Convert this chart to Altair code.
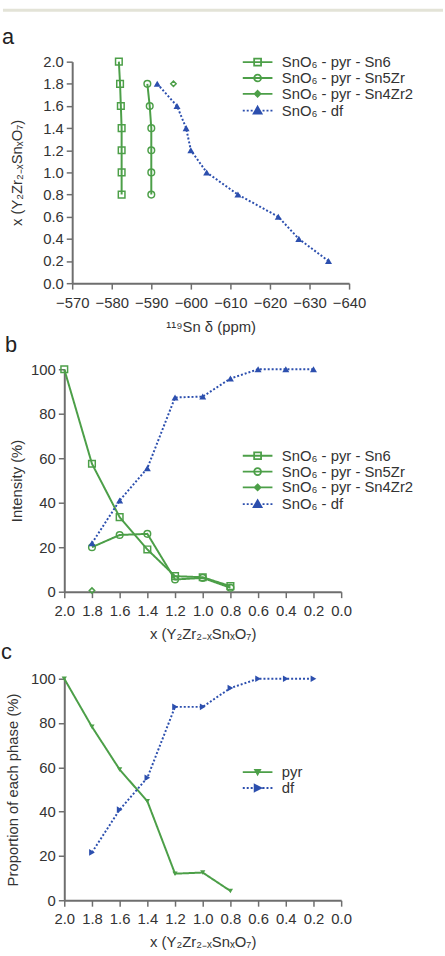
import altair as alt
import pandas as pd

GREEN = "#4c9f48"
BLUE = "#2c4fae"
AXIS_GREY = "#6e6e6e"
TEXT = "#333333"
FONT = "Liberation Sans"

SN6 = "SnO₆ - pyr - Sn6"
SN5 = "SnO₆ - pyr - Sn5Zr"
SN4 = "SnO₆ - pyr - Sn4Zr2"
DF = "SnO₆ - df"
PYR = "pyr"
DFC = "df"
COMP_TITLE = "x (Y₂Zr₂₋ₓSnₓO₇)"

# ---- a: 119Sn chemical shift of each SnO6 environment vs composition
a_comp_sn6 = [2.0, 1.8, 1.6, 1.4, 1.2, 1.0, 0.8]
a_ppm_sn6 = [-581.8, -582.1, -582.3, -582.5, -582.5, -582.5, -582.5]
a_comp_sn5zr = [1.8, 1.6, 1.4, 1.2, 1.0, 0.8]
a_ppm_sn5zr = [-589.0, -589.6, -590.0, -590.0, -590.0, -590.0]
a_comp_sn4zr2 = [1.8]
a_ppm_sn4zr2 = [-595.6]
a_comp_df = [1.8, 1.6, 1.4, 1.2, 1.0, 0.8, 0.6, 0.4, 0.2]
a_ppm_df = [-591.5, -596.5, -598.8, -600.0, -604.0, -611.9, -622.1, -627.3, -634.8]

# ---- b: relative intensity of each environment
b_comp_sn6 = [2.0, 1.8, 1.6, 1.4, 1.2, 1.0, 0.8]
b_int_sn6 = [100.0, 57.5, 33.5, 19.0, 7.0, 6.5, 2.5]
b_comp_sn5zr = [1.8, 1.6, 1.4, 1.2, 1.0, 0.8]
b_int_sn5zr = [20.0, 25.5, 26.0, 5.5, 6.2, 1.8]
b_comp_sn4zr2 = [1.8]
b_int_sn4zr2 = [0.5]
b_comp_df = [1.8, 1.6, 1.4, 1.2, 1.0, 0.8, 0.6, 0.4, 0.2]
b_int_df = [21.8, 41.0, 55.5, 87.3, 87.7, 95.8, 100.0, 100.0, 100.0]

# ---- c: proportion of each phase
c_comp_pyr = [2.0, 1.8, 1.6, 1.4, 1.2, 1.0, 0.8]
c_prop_pyr = [100.0, 78.3, 59.0, 44.7, 12.0, 12.5, 4.2]
c_comp_df = [1.8, 1.6, 1.4, 1.2, 1.0, 0.8, 0.6, 0.4, 0.2]
c_prop_df = [21.6, 40.9, 55.3, 87.3, 87.3, 95.8, 100.0, 100.0, 100.0]

# tick values
ppm_ticks = [-570, -580, -590, -600, -610, -620, -630, -640]
comp_ticks = [0.0, 0.2, 0.4, 0.6, 0.8, 1.0, 1.2, 1.4, 1.6, 1.8, 2.0]
pct_ticks = [0, 20, 40, 60, 80, 100]

# legend glyphs: a line segment with the marker in its middle (unit = sqrt(size)/2)
DOTS_L = "M-1,0H-0.6M-0.2,0H0.2M0.6,0H1"
DOTS_R = "M3,0H3.4M3.8,0H4.2M4.6,0H5"
P_SQUARE = "M-1,0H5M1.3,-0.7H2.7V0.7H1.3Z"
P_CIRCLE = "M-1,0H5M1.3,0A0.7,0.7 0 1,0 2.7,0A0.7,0.7 0 1,0 1.3,0Z"
P_DIAMOND = "M-1,0H5M2,-0.6L2.6,0L2,0.6L1.4,0Z"
P_TRI_UP = DOTS_L + DOTS_R + "M2,-0.8L2.8,0.6H1.2Z"
P_TRI_DOWN = "M-1,0H5M1.5,-0.45H2.5L2,0.45Z"
P_TRI_RIGHT = DOTS_L + DOTS_R + "M1.4,-0.65L2.7,0L1.4,0.65Z"


def table(names, comps, vals):
    rows = []
    for n, cs, vs in zip(names, comps, vals):
        for c, v in zip(cs, vs):
            rows.append({"series": n, "comp": c, "val": v})
    return pd.DataFrame(rows)


STYLE = {
    SN6: dict(color=GREEN, dash=[1, 0], shape="square", filled=False, size=45),
    SN5: dict(color=GREEN, dash=[1, 0], shape="circle", filled=False, size=45),
    SN4: dict(color=GREEN, dash=[1, 0], shape="diamond", filled=False, size=30),
    DF: dict(color=BLUE, dash=[2, 2], shape="triangle-up", filled=True, size=50),
    PYR: dict(color=GREEN, dash=[1, 0], shape="triangle-down", filled=True, size=28),
    DFC: dict(color=BLUE, dash=[2, 2], shape="triangle-right", filled=True, size=45),
}


def legend(x, y):
    return alt.Legend(
        orient="none", legendX=x, legendY=y, title=None, symbolSize=100,
        symbolStrokeWidth=1.8, labelOffset=27, rowPadding=0, padding=0,
        labelFontSize=15, labelFont=FONT, labelColor=TEXT, labelLimit=300,
    )


def panel(df, xenc, yenc, names, paths, fills, leg, title, dx, offset, w, h):
    layers = []
    for n in names:
        st = STYLE[n]
        d = df[df.series == n]
        if len(d) > 1:
            layers.append(
                alt.Chart(d).mark_line(color=st["color"], strokeWidth=2, strokeDash=st["dash"])
                .encode(x=xenc, y=yenc, order=alt.Order("comp", sort="descending"))
            )
    for n in names:
        st = STYLE[n]
        d = df[df.series == n]
        layers.append(
            alt.Chart(d).mark_point(
                shape=st["shape"], filled=st["filled"], color=st["color"],
                size=st["size"], strokeWidth=1.5, opacity=1,
            ).encode(x=xenc, y=yenc)
        )
    colors = [STYLE[n]["color"] for n in names]
    key = pd.DataFrame({"series": names})
    layers.append(
        alt.Chart(key).transform_filter("false").mark_point(size=100, strokeWidth=1.8, opacity=1)
        .encode(
            shape=alt.Shape("series:N", scale=alt.Scale(domain=names, range=paths), legend=leg),
            stroke=alt.Stroke("series:N", scale=alt.Scale(domain=names, range=colors), legend=leg),
            fill=alt.Fill("series:N", scale=alt.Scale(domain=names, range=fills), legend=leg),
        )
    )
    return alt.layer(*layers).properties(
        width=w, height=h,
        title=alt.TitleParams(title, anchor="start", frame="bounds", fontSize=22,
                              fontWeight="normal", font=FONT, color="#222222",
                              dx=dx, offset=offset),
    )


# panel a (plot shifted 8 px right of the panels below it)
df_a = table([SN6, SN5, SN4, DF],
             [a_comp_sn6, a_comp_sn5zr, a_comp_sn4zr2, a_comp_df],
             [a_ppm_sn6, a_ppm_sn5zr, a_ppm_sn4zr2, a_ppm_df])
xa = alt.X("val:Q", scale=alt.Scale(domain=[-640, -570], reverse=True, nice=False, range=[8, 288]),
           axis=alt.Axis(values=ppm_ticks, format="d", title="¹¹⁹Sn δ (ppm)",
                         labelPadding=7, titlePadding=9))
ya = alt.Y("comp:Q", scale=alt.Scale(domain=[0, 2], nice=False),
           axis=alt.Axis(values=comp_ticks, format=".1f", title=COMP_TITLE, titlePadding=18, offset=-8))
chart_a = panel(df_a, xa, ya, [SN6, SN5, SN4, DF],
                [P_SQUARE, P_CIRCLE, P_DIAMOND, P_TRI_UP],
                ["transparent", "transparent", GREEN, BLUE],
                legend(178, -7), "a", -8, 6, 288, 224)

# panel b
df_b = table([SN6, SN5, SN4, DF],
             [b_comp_sn6, b_comp_sn5zr, b_comp_sn4zr2, b_comp_df],
             [b_int_sn6, b_int_sn5zr, b_int_sn4zr2, b_int_df])
xb = alt.X("comp:Q", scale=alt.Scale(domain=[0, 2], reverse=True, nice=False),
           axis=alt.Axis(values=comp_ticks, format=".1f", title=COMP_TITLE,
                         labelPadding=6, titlePadding=8))
yb = alt.Y("val:Q", scale=alt.Scale(domain=[0, 100], nice=False),
           axis=alt.Axis(values=pct_ticks, format="d", title="Intensity (%)", titlePadding=6))
chart_b = panel(df_b, xb, yb, [SN6, SN5, SN4, DF],
                [P_SQUARE, P_CIRCLE, P_DIAMOND, P_TRI_UP],
                ["transparent", "transparent", GREEN, BLUE],
                legend(178, 80), "b", -5, 5, 280, 225)

# panel c
df_c = table([PYR, DFC], [c_comp_pyr, c_comp_df], [c_prop_pyr, c_prop_df])
yc = alt.Y("val:Q", scale=alt.Scale(domain=[0, 100], nice=False),
           axis=alt.Axis(values=pct_ticks, format="d", title="Proportion of each phase (%)", titlePadding=10))
chart_c = panel(df_c, xb, yc, [PYR, DFC],
                [P_TRI_DOWN, P_TRI_RIGHT], [GREEN, BLUE],
                legend(178, 87), "c", -5, 8, 280, 224)

# thin rule along the top edge
top = alt.Chart(pd.DataFrame({"edge": [0]})).mark_rule(color="#e3e3d7", strokeWidth=3).encode(
    x=alt.value(-62), x2=alt.value(383), y=alt.value(5)
).properties(width=280, height=21)

chart = alt.vconcat(top, chart_a, chart_b, chart_c, spacing=0).resolve_scale(
    shape="independent", stroke="independent", fill="independent", x="independent", y="independent"
).resolve_legend(shape="independent", stroke="independent", fill="independent").configure(
    padding={"left": 0, "top": 0, "right": 0, "bottom": 0},
    font=FONT,
).configure_view(stroke=None).configure_axis(
    labelFont=FONT, labelFontSize=15, labelColor=TEXT, titleFont=FONT, titleFontSize=15,
    titleFontWeight="normal", titleColor=TEXT, domainColor=AXIS_GREY, domainWidth=2,
    tickColor=AXIS_GREY, tickWidth=1.5, tickSize=6, grid=False, labelPadding=3,
    labelOverlap=False, labelFlush=False,
)

chart.save("out.html", embed_options={"renderer": "svg", "actions": False})
